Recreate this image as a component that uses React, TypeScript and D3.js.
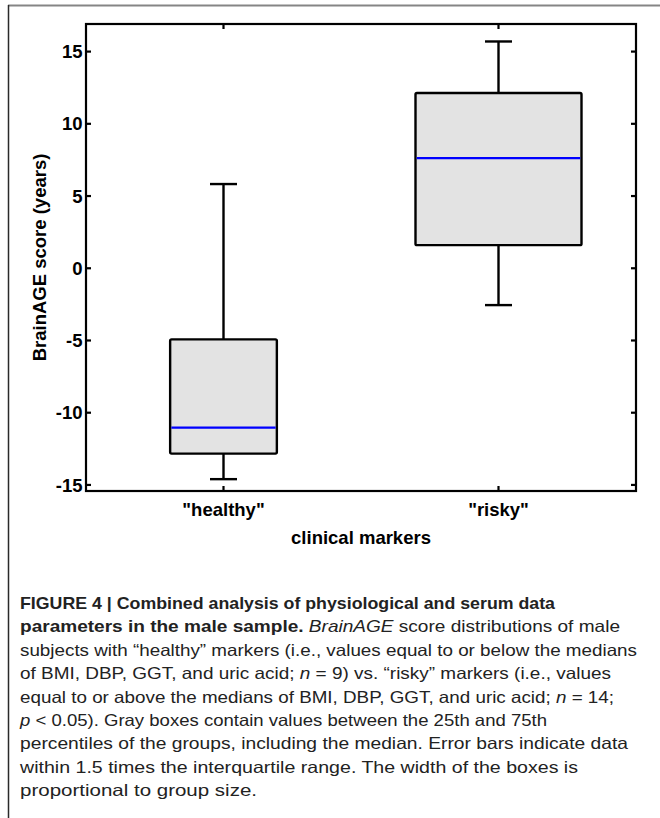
import React from "react";
import * as d3 from "d3";

const categories = ['"healthy"', '"risky"'];
const groupSizes = [9, 14];
const whiskerLow = [-14.6, -2.55];
const q1 = [-12.83, 1.6];
const medians = [-11.03, 7.63];
const q3 = [-4.92, 12.13];
const whiskerHigh = [5.83, 15.7];
const yTicks = [-15, -10, -5, 0, 5, 10, 15];

const captionLines: { parts: { t: string; s?: "b" | "i" }[]; w: number }[] = [
  { parts: [{ t: "FIGURE 4 | Combined analysis of physiological and serum data", s: "b" }], w: 535 },
  {
    parts: [
      { t: "parameters in the male sample.", s: "b" },
      { t: " " },
      { t: "BrainAGE", s: "i" },
      { t: " score distributions of male" },
    ],
    w: 600,
  },
  { parts: [{ t: "subjects with \u201Chealthy\u201D markers (i.e., values equal to or below the medians" }], w: 617 },
  {
    parts: [
      { t: "of BMI, DBP, GGT, and uric acid; " },
      { t: "n", s: "i" },
      { t: " = 9) vs. \u201Crisky\u201D markers (i.e., values" },
    ],
    w: 591,
  },
  {
    parts: [
      { t: "equal to or above the medians of BMI, DBP, GGT, and uric acid; " },
      { t: "n", s: "i" },
      { t: " = 14;" },
    ],
    w: 594,
  },
  {
    parts: [{ t: "p", s: "i" }, { t: " < 0.05). Gray boxes contain values between the 25th and 75th" }],
    w: 527,
  },
  { parts: [{ t: "percentiles of the groups, including the median. Error bars indicate data" }], w: 608 },
  { parts: [{ t: "within 1.5 times the interquartile range. The width of the boxes is" }], w: 558 },
  { parts: [{ t: "proportional to group size." }], w: 237 },
];

export default function App() {
  const W = 660;
  const H = 818;
  const left = 86;
  const right = 636;
  const top = 24;
  const bottom = 491;

  const x = d3.scaleLinear().domain([0.5, 2.5]).range([left, right]);
  const y = d3.scaleLinear().domain([-15.42, 16.91]).range([bottom, top]);
  const wScale = d3.scaleLinear().domain([0, 14]).range([0, 166]);
  const capW = 27;
  const font = "'Liberation Sans', Arial, Helvetica, sans-serif";
  const tickLen = 5;
  const sw = 2.4;
  const fs = 18.5;

  return (
    <svg width={W} height={H} style={{ position: "absolute", left: 0, top: 0 }}>
      <rect x={0} y={0} width={W} height={H} fill="#fff" />
      {/* outer frame */}
      <line x1={8} x2={W} y1={5.5} y2={5.5} stroke="#858585" strokeWidth={2} />
      <line x1={8.5} x2={8.5} y1={5} y2={H} stroke="#2a2a2a" strokeWidth={1.5} />

      {/* boxes */}
      {categories.map((c, i) => {
        const cx = x(i + 1);
        const bw = wScale(groupSizes[i]);
        return (
          <g key={c}>
            <line x1={cx} x2={cx} y1={y(whiskerHigh[i])} y2={y(q3[i])} stroke="#000" strokeWidth={sw} />
            <line x1={cx} x2={cx} y1={y(q1[i])} y2={y(whiskerLow[i])} stroke="#000" strokeWidth={sw} />
            <line x1={cx - capW / 2} x2={cx + capW / 2} y1={y(whiskerHigh[i])} y2={y(whiskerHigh[i])} stroke="#000" strokeWidth={sw} />
            <line x1={cx - capW / 2} x2={cx + capW / 2} y1={y(whiskerLow[i])} y2={y(whiskerLow[i])} stroke="#000" strokeWidth={sw} />
            <rect
              x={cx - bw / 2}
              y={y(q3[i])}
              width={bw}
              height={y(q1[i]) - y(q3[i])}
              fill="#e3e3e3"
              stroke="#000"
              strokeWidth={sw}
              rx={1.5}
            />
            <line x1={cx - bw / 2 + 1.2} x2={cx + bw / 2 - 1.2} y1={y(medians[i])} y2={y(medians[i])} stroke="#0000ff" strokeWidth={2.2} />
          </g>
        );
      })}

      {/* axes frame */}
      <rect x={left} y={top} width={right - left} height={bottom - top} fill="none" stroke="#000" strokeWidth={2.2} />
      {yTicks.map((t) => (
        <g key={t}>
          <line x1={left} x2={left + tickLen} y1={y(t)} y2={y(t)} stroke="#000" strokeWidth={2.2} />
          <line x1={right} x2={right - tickLen} y1={y(t)} y2={y(t)} stroke="#000" strokeWidth={2.2} />
          <text
            x={left - 3.5}
            y={y(t)}
            dy="0.36em"
            textAnchor="end"
            fontFamily={font}
            fontWeight="bold"
            fontSize={fs}
            fill="#000"
          >
            {t}
          </text>
        </g>
      ))}
      {categories.map((c, i) => (
        <g key={"xt" + c}>
          <line x1={x(i + 1)} x2={x(i + 1)} y1={bottom} y2={bottom - tickLen} stroke="#000" strokeWidth={2.2} />
          <line x1={x(i + 1)} x2={x(i + 1)} y1={top} y2={top + tickLen} stroke="#000" strokeWidth={2.2} />
          <text x={x(i + 1)} y={516} textAnchor="middle" fontFamily={font} fontWeight="bold" fontSize={fs} fill="#000">
            {c}
          </text>
        </g>
      ))}
      <text x={(left + right) / 2} y={544} textAnchor="middle" fontFamily={font} fontWeight="bold" fontSize={fs} fill="#000">
        clinical markers
      </text>
      <text
        transform={`translate(46, ${(top + bottom) / 2}) rotate(-90)`}
        textAnchor="middle"
        fontFamily={font}
        fontWeight="bold"
        fontSize={fs}
        fill="#000"
      >
        BrainAGE score (years)
      </text>

      {/* caption */}
      {captionLines.map((ln, i) => (
        <text
          key={i}
          x={20}
          y={609 + i * 23.4}
          fontFamily={font}
          fontSize={16.5}
          fill="#222"
          textLength={ln.w}
          lengthAdjust="spacingAndGlyphs"
        >
          {ln.parts.map((p, j) => (
            <tspan key={j} fontWeight={p.s === "b" ? "bold" : "normal"} fontStyle={p.s === "i" ? "italic" : "normal"}>
              {p.t}
            </tspan>
          ))}
        </text>
      ))}
    </svg>
  );
}
